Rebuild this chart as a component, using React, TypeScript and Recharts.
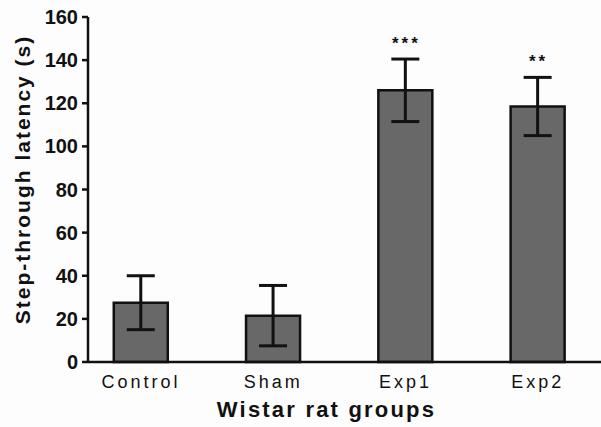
import React from 'react';
import { BarChart, Bar, XAxis, YAxis, ErrorBar, LabelList, Label } from 'recharts';

const groups = ['Control', 'Sham', 'Exp1', 'Exp2'];
const latency = [27.5, 21.5, 126, 118.5];
const sem = [12.5, 14, 14.5, 13.5];
const stars = ['', '', '***', '**'];
const yTicks = [0, 20, 40, 60, 80, 100, 120, 140, 160];

const data = groups.map((name, i) => ({
  idx: i + 1,
  name,
  value: latency[i],
  err: sem[i],
  sig: stars[i],
}));

const FONT = '"Liberation Sans", Arial, sans-serif';

const renderStars = (props: any) => {
  const { x, y, width, height, value, index } = props;
  if (!value) return null;
  const entry = data[index];
  const pxPerUnit = height / entry.value;
  const top = y - entry.err * pxPerUnit;
  return (
    <text
      x={x + width / 2 + 1}
      y={top - 10}
      textAnchor="middle"
      fontFamily={FONT}
      fontSize={17}
      fontWeight={700}
      letterSpacing={3}
      fill="#111"
    >
      {value}
    </text>
  );
};

const YTick = ({ x, y, payload }: any) => (
  <text
    x={x}
    y={y}
    textAnchor="end"
    dominantBaseline="central"
    fontFamily={FONT}
    fontSize={20}
    fontWeight={700}
    fill="#111"
  >
    {payload.value}
  </text>
);

export default function App() {
  return (
    <div style={{ position: 'absolute', left: 0, top: 0, width: 601, height: 427, background: '#fdfdfd' }}>
      <BarChart width={601} height={427} data={data} margin={{ top: 17, right: 0, left: 0, bottom: 0 }}>
        <XAxis
          dataKey="idx"
          type="number"
          domain={[0.6, 4.478]}
          ticks={[1, 2, 3, 4]}
          tickFormatter={(v: number) => groups[v - 1]}
          height={65}
          tickLine={false}
          axisLine={{ stroke: '#111', strokeWidth: 2.5 }}
          tick={{ fill: '#111', fontSize: 18, fontFamily: FONT, letterSpacing: 3 }}
          tickMargin={7}
          allowDataOverflow
        >
          <Label
            content={({ viewBox }: any) => (
              <text
                x={viewBox.x + viewBox.width / 2 - 18}
                y={viewBox.y + 55}
                textAnchor="middle"
                fontFamily={FONT}
                fontSize={22}
                fontWeight={700}
                letterSpacing={2.2}
                fill="#111"
              >
                Wistar rat groups
              </text>
            )}
          />
        </XAxis>
        <YAxis
          domain={[0, 160]}
          ticks={yTicks}
          width={88}
          tickSize={6}
          tickMargin={4}
          tickLine={{ stroke: '#111', strokeWidth: 2.5 }}
          axisLine={{ stroke: '#111', strokeWidth: 2.5 }}
          tick={<YTick />}
        >
          <Label
            content={({ viewBox }: any) => {
              const cx = 22;
              const cy = viewBox.y + viewBox.height / 2 - 10;
              return (
                <text
                  x={cx}
                  y={cy}
                  transform={`rotate(-90 ${cx} ${cy})`}
                  textAnchor="middle"
                  dominantBaseline="central"
                  fontFamily={FONT}
                  fontSize={21}
                  fontWeight={700}
                  letterSpacing={2}
                  fill="#111"
                >
                  Step-through latency (s)
                </text>
              );
            }}
          />
        </YAxis>
        <Bar
          dataKey="value"
          barSize={54}
          fill="#686868"
          stroke="#111"
          strokeWidth={2.5}
          isAnimationActive={false}
        >
          <ErrorBar dataKey="err" width={14} stroke="#111" strokeWidth={3} direction="y" />
          <LabelList dataKey="sig" content={renderStars} />
        </Bar>
      </BarChart>
    </div>
  );
}
